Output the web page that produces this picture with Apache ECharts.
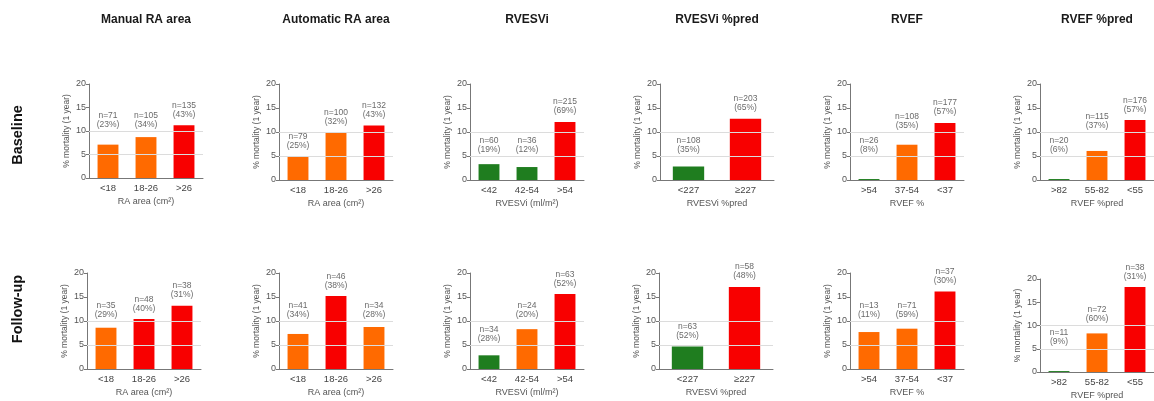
<!DOCTYPE html>
<html>
<head>
<meta charset="utf-8">
<script src="https://cdn.jsdelivr.net/npm/echarts@6/dist/echarts.min.js"></script>
<style>
html,body{margin:0;padding:0;background:#fff;}
#chart{width:1154px;height:401px;}
</style>
</head>
<body>
<div id="chart"></div>
<script>
// ---- data ----
const panelTitles = ['Manual RA area', 'Automatic RA area', 'RVESVi', 'RVESVi %pred', 'RVEF', 'RVEF %pred'];
const rowTitles = ['Baseline', 'Follow-up'];
const categories = [
  ['<18', '18-26', '>26'],
  ['<18', '18-26', '>26'],
  ['<42', '42-54', '>54'],
  ['<227', '≥227'],
  ['>54', '37-54', '<37'],
  ['>82', '55-82', '<55']
];
const xAxisNames = ['RA area (cm²)', 'RA area (cm²)', 'RVESVi (ml/m²)', 'RVESVi %pred', 'RVEF %', 'RVEF %pred'];
const yAxisName = '% mortality (1 year)';
const yTicks = [0, 5, 10, 15, 20];

const baselineValues = [
  [7.1, 8.7, 11.2],
  [5.0, 10.0, 11.35],
  [3.3, 2.7, 12.1],
  [2.8, 12.75],
  [0.2, 7.35, 11.9],
  [0.2, 6.05, 12.5]
];
const followupValues = [
  [8.6, 10.4, 13.2],
  [7.3, 15.2, 8.75],
  [2.85, 8.3, 15.6],
  [4.7, 17.1],
  [7.7, 8.4, 16.15],
  [0.2, 8.3, 18.3]
];
const baselineN = [
  [71, 105, 135], [79, 100, 132], [60, 36, 215], [108, 203], [26, 108, 177], [20, 115, 176]
];
const baselinePct = [
  [23, 34, 43], [25, 32, 43], [19, 12, 69], [35, 65], [8, 35, 57], [6, 37, 57]
];
const followupN = [
  [35, 48, 38], [41, 46, 34], [34, 24, 63], [63, 58], [13, 71, 37], [11, 72, 38]
];
const followupPct = [
  [29, 40, 31], [34, 38, 28], [28, 20, 52], [52, 48], [11, 59, 30], [9, 60, 31]
];
// risk level of each bar: low / mid / high
const baselineRisk = [
  ['mid', 'mid', 'high'], ['mid', 'mid', 'high'], ['low', 'low', 'high'],
  ['low', 'high'], ['low', 'mid', 'high'], ['low', 'mid', 'high']
];
const followupRisk = [
  ['mid', 'high', 'high'], ['mid', 'high', 'mid'], ['low', 'mid', 'high'],
  ['low', 'high'], ['mid', 'mid', 'high'], ['low', 'mid', 'high']
];

// ---- styles / layout ----
const riskColors = { low: '#1f7d1f', mid: '#ff6a00', high: '#f80000' };
const FONT = '"Liberation Sans", Arial, sans-serif';
const panelLefts = [89, 279, 470, 660, 850, 1040];
const rowLayout = [
  { tops: [84, 84, 84, 84, 84, 84], heights: [94, 96, 96, 96, 96, 96], lefts: [89, 279, 470, 660, 850, 1040] },
  { tops: [273, 273, 273, 273, 273, 279], heights: [96, 96, 96, 96, 96, 96], lefts: [87, 279, 470, 659, 850, 1040] }
];
const panelWidth = 114;

// label sits just above the bar, but not crossing the 5 / 10 reference lines
function labelBase(v) {
  if (v < 10) return Math.max(v + 1, Math.ceil(v / 5) * 5 + 0.15);
  return v + 1;
}

const rows = [
  { values: baselineValues, n: baselineN, pct: baselinePct, risk: baselineRisk },
  { values: followupValues, n: followupN, pct: followupPct, risk: followupRisk }
];

const grid = [], xAxis = [], yAxis = [], series = [], title = [];
let gi = 0;
rows.forEach((row, r) => {
  for (let p = 0; p < 6; p++) {
    const L = rowLayout[r];
    grid.push({ left: L.lefts[p], top: L.tops[p], width: panelWidth, height: L.heights[p], containLabel: false });
    xAxis.push({
      type: 'category', gridIndex: gi, data: categories[p],
      name: xAxisNames[p], nameLocation: 'middle', nameGap: 19,
      nameTextStyle: { fontFamily: FONT, fontSize: 9, color: '#555' },
      axisLine: { lineStyle: { color: '#777', width: 1 } },
      axisTick: { show: false },
      axisLabel: { fontFamily: FONT, fontSize: 9.5, color: '#444', margin: 5 }
    });
    yAxis.push({
      type: 'value', gridIndex: gi, min: yTicks[0], max: yTicks[yTicks.length - 1], interval: yTicks[1] - yTicks[0],
      name: yAxisName, nameLocation: 'middle', nameRotate: 90, nameGap: 18,
      nameTextStyle: { fontFamily: FONT, fontSize: 8.5, color: '#555' },
      axisLine: { show: true, lineStyle: { color: '#777', width: 1 } },
      axisTick: { show: true, length: 3, lineStyle: { color: '#777' } },
      axisLabel: { fontFamily: FONT, fontSize: 9, color: '#555', margin: 3 },
      splitLine: { show: false }
    });
    const vals = row.values[p];
    series.push({
      type: 'bar', xAxisIndex: gi, yAxisIndex: gi,
      barWidth: '55%',
      data: vals.map((v, i) => ({ value: v, itemStyle: { color: riskColors[row.risk[p][i]] } })),
      markLine: {
        silent: true, symbol: 'none', label: { show: false },
        lineStyle: { color: '#dcdcdc', type: 'solid', width: 1 },
        data: [{ yAxis: yTicks[1] }, { yAxis: yTicks[2] }],
        animation: false
      },
      animation: false
    });
    series.push({
      type: 'scatter', xAxisIndex: gi, yAxisIndex: gi,
      symbolSize: 1, itemStyle: { color: 'transparent' },
      data: vals.map(v => labelBase(v)),
      label: {
        show: true, position: 'top', distance: 1,
        fontFamily: FONT, fontSize: 8.5, lineHeight: 9, color: '#444', align: 'center',
        formatter: (prm) => 'n=' + row.n[p][prm.dataIndex] + '\n(' + row.pct[p][prm.dataIndex] + '%)'
      },
      silent: true, animation: false, z: 5
    });
    gi++;
  }
});

panelTitles.forEach((t, p) => {
  title.push({
    text: t, left: panelLefts[p] + 57, top: 14, padding: 0, textAlign: 'center',
    textStyle: { fontFamily: FONT, fontSize: 12, fontWeight: 'bold', color: '#1a1a1a' }
  });
});

const chart = echarts.init(document.getElementById('chart'), null, { renderer: 'canvas' });
chart.setOption({
  backgroundColor: '#fff',
  animation: false,
  title: title,
  grid: grid, xAxis: xAxis, yAxis: yAxis, series: series,
  graphic: [
    { type: 'text', x: 18, y: 135, rotation: Math.PI / 2,
      style: { text: rowTitles[0], font: 'bold 14.5px ' + FONT, fill: '#111', align: 'center', verticalAlign: 'middle' } },
    { type: 'text', x: 18, y: 309, rotation: Math.PI / 2,
      style: { text: rowTitles[1], font: 'bold 14.5px ' + FONT, fill: '#111', align: 'center', verticalAlign: 'middle' } }
  ]
});
</script>
</body>
</html>
